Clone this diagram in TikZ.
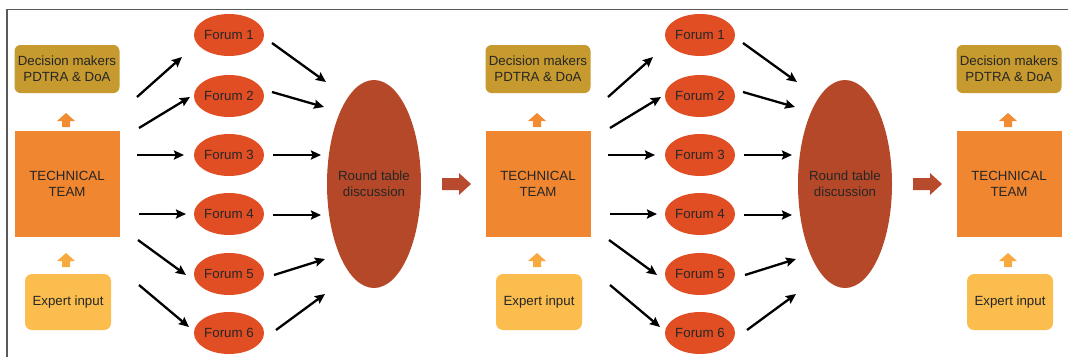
\documentclass[tikz,border=0pt]{standalone}
\usepackage{fontspec}
\setmainfont{Liberation Sans}
\usetikzlibrary{arrows.meta,shapes.geometric}
\definecolor{forumc}{RGB}{226,78,36}
\definecolor{rtc}{RGB}{181,72,40}
\definecolor{ttc}{RGB}{240,134,48}
\definecolor{dmc}{RGB}{198,154,46}
\definecolor{eic}{RGB}{251,189,78}
\definecolor{upc}{RGB}{242,140,50}
\definecolor{upc2}{RGB}{248,170,64}
\definecolor{brc}{RGB}{184,74,45}
\definecolor{framec}{RGB}{90,90,90}
\begin{document}
\begin{tikzpicture}[x=1pt,y=-1pt,
  txt/.style={font=\fontsize{13.3}{16}\selectfont, text=black!85, align=center, inner sep=0pt},
  dmbox/.style={txt, fill=dmc, rounded corners=6pt, minimum width=105pt, minimum height=48pt},
  ttbox/.style={txt, fill=ttc, minimum width=105pt, minimum height=106pt},
  eibox/.style={txt, fill=eic, rounded corners=7pt, minimum width=86pt, minimum height=56pt},
  forum/.style={txt, ellipse, fill=forumc, minimum width=68pt, minimum height=42pt},
  rtable/.style={ellipse, fill=rtc, inner sep=0pt, minimum width=94pt, minimum height=208pt},
  conn/.style={line width=2.3pt, -{Stealth[length=10pt,width=9pt,inset=1.5pt]}},
  uparr/.pic={\fill[#1] (0,0) -- (9,8) -- (4,8) -- (4,14) -- (-4,14) -- (-4,8) -- (-9,8) -- cycle;},
  rarr/.pic={\fill[brc] (0,-6) -- (17,-6) -- (17,-11) -- (29,0) -- (17,11) -- (17,6) -- (0,6) -- cycle;}
]
\useasboundingbox (0,0) rectangle (1068,357);
\draw[framec, line width=1.6pt] (7,357) -- (7,9.5) -- (1068,9.5);

\foreach \g in {0,1,2} {
  \begin{scope}[xshift=\g*471pt]
    \node[dmbox] (dm\g) at (67,69) {Decision makers\\PDTRA \& DoA};
    \node[ttbox] (tt\g) at (67,184) {TECHNICAL\\TEAM};
    \node[eibox] (ei\g) at (68,302) {Expert input};
    \pic at (66,113) {uparr=upc};
    \pic at (66,253) {uparr=upc2};
  \end{scope}
}

\foreach \g in {0,1} {
  \begin{scope}[xshift=\g*471pt]
    \foreach \i/\y in {1/35,2/96,3/155,4/214,5/274,6/333}
      \node[forum] (f\g-\i) at (229,\y) {Forum \i};
    \node[rtable, label={[txt]center:Round table\\discussion}] (rt\g) at (374,184) {};
    \pic at (442,184) {rarr};
    \foreach \i/\ax/\ay/\bx/\by in {1/137/97/182/57, 2/139/128/190/97, 3/137/155/184/155,
        4/139/214/186/214, 5/138/240/186/275, 6/139/285/189/327} {
      \coordinate (ls\g-\i) at (\ax,\ay);
      \coordinate (le\g-\i) at (\bx,\by);
      \draw[conn] (ls\g-\i) -- (le\g-\i);
    }
    \foreach \i/\ax/\ay/\bx/\by in {1/272/43/326/82, 2/272/92/324/107, 3/273/155/321/155,
        4/273/215/321/215, 5/274/275/325/259, 6/276/330/325/294} {
      \coordinate (rs\g-\i) at (\ax,\ay);
      \coordinate (re\g-\i) at (\bx,\by);
      \draw[conn] (rs\g-\i) -- (re\g-\i);
    }
  \end{scope}
}
\end{tikzpicture}
\end{document}
